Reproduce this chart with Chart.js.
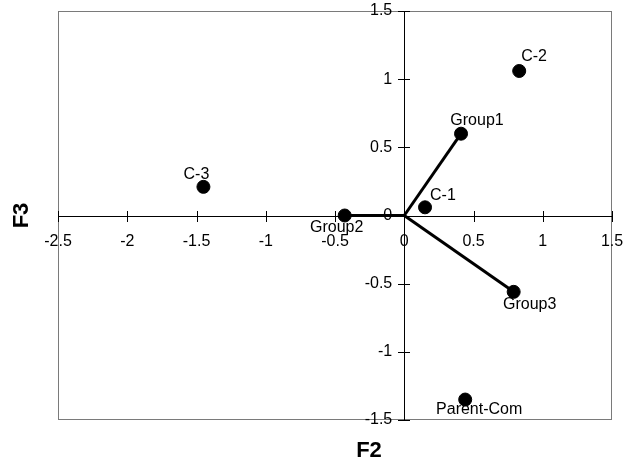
<!DOCTYPE html>
<html>
<head>
<meta charset="utf-8">
<script src="https://cdn.jsdelivr.net/npm/chart.js@4/dist/chart.umd.min.js"></script>
<style>
  html, body { margin: 0; padding: 0; background: #fff; }
  #wrap { width: 633px; height: 465px; position: relative; }
</style>
</head>
<body>
<div id="wrap"><canvas id="c"></canvas></div>
<script>
// Point names and their coordinates on the F2 / F3 axes
const names = ['C-1', 'C-2', 'C-3', 'Group1', 'Group2', 'Group3', 'Parent-Com'];
const f2 = [0.15, 0.83, -1.45, 0.41, -0.43, 0.79, 0.44];
const f3 = [0.06, 1.06, 0.21, 0.60, 0.00, -0.56, -1.35];

// Vectors drawn from the origin
const vectorNames = ['Group1', 'Group2', 'Group3'];

// Tick values
const xTicks = [-2.5, -2, -1.5, -1, -0.5, 0, 0.5, 1, 1.5];
const yTicks = [-1.5, -1, -0.5, 0, 0.5, 1, 1.5];

// Label placement relative to each marker (pixels)
const labelPlace = {
  'C-1':        { dx: 5,   dy: -12, align: 'left' },
  'C-2':        { dx: 2,   dy: -14, align: 'left' },
  'C-3':        { dx: -7,  dy: -12, align: 'center' },
  'Group1':     { dx: 16,  dy: -13, align: 'center' },
  'Group2':     { dx: -8,  dy: 12,  align: 'center' },
  'Group3':     { dx: 16,  dy: 13,  align: 'center' },
  'Parent-Com': { dx: 14,  dy: 10,  align: 'center' }
};

const points = names.map((n, i) => ({ x: f2[i], y: f3[i], name: n }));
const vectorSets = vectorNames.map(n => {
  const i = names.indexOf(n);
  return {
    type: 'line',
    data: [{ x: 0, y: 0 }, { x: f2[i], y: f3[i] }],
    borderColor: '#000',
    borderWidth: 3,
    pointRadius: 0,
    fill: false,
    tension: 0,
    order: 2
  };
});

const FONT = '"Liberation Sans", Arial, sans-serif';

const axesPlugin = {
  id: 'centerAxes',
  beforeDatasetsDraw(chart) {
    const { ctx, chartArea: a, scales } = chart;
    const xs = scales.x, ys = scales.y;
    const x0 = Math.round(xs.getPixelForValue(0)), y0 = Math.round(ys.getPixelForValue(0));
    ctx.save();
    // frame
    ctx.strokeStyle = '#7a7a7a';
    ctx.lineWidth = 1;
    ctx.strokeRect(a.left + 0.5, a.top + 0.5, a.right - a.left - 1, a.bottom - a.top - 1);
    // axes through origin
    ctx.strokeStyle = '#000';
    ctx.beginPath();
    ctx.moveTo(a.left, y0 + 0.5);
    ctx.lineTo(a.right, y0 + 0.5);
    ctx.moveTo(x0 + 0.5, a.top);
    ctx.lineTo(x0 + 0.5, a.bottom);
    // crossing tick marks
    xTicks.forEach(v => {
      const px = Math.round(xs.getPixelForValue(v)) + 0.5;
      ctx.moveTo(px, y0 - 5);
      ctx.lineTo(px, y0 + 6);
    });
    yTicks.forEach(v => {
      const py = Math.round(ys.getPixelForValue(v)) + 0.5;
      ctx.moveTo(x0 - 6, py);
      ctx.lineTo(x0 + 6, py);
    });
    ctx.stroke();
    ctx.restore();
  },
  afterDatasetsDraw(chart) {
    const { ctx, chartArea: a, scales } = chart;
    const xs = scales.x, ys = scales.y;
    const x0 = xs.getPixelForValue(0), y0 = ys.getPixelForValue(0);
    ctx.save();
    ctx.fillStyle = '#000';
    ctx.font = '16px ' + FONT;
    // x tick labels
    ctx.textAlign = 'center';
    ctx.textBaseline = 'middle';
    xTicks.forEach(v => {
      ctx.fillText(String(v), xs.getPixelForValue(v), y0 + 26);
    });
    // y tick labels
    ctx.textAlign = 'right';
    yTicks.forEach(v => {
      ctx.fillText(String(v), x0 - 12, ys.getPixelForValue(v));
    });
    // point labels
    names.forEach((n, i) => {
      const p = labelPlace[n];
      ctx.textAlign = p.align;
      ctx.fillText(n, xs.getPixelForValue(f2[i]) + p.dx, ys.getPixelForValue(f3[i]) + p.dy);
    });
    // axis titles
    ctx.font = 'bold 22px ' + FONT;
    ctx.textAlign = 'center';
    ctx.fillText('F2', 369, 451);
    ctx.translate(22, (a.top + a.bottom) / 2);
    ctx.rotate(-Math.PI / 2);
    ctx.fillText('F3', 0, 0);
    ctx.restore();
  }
};

new Chart(document.getElementById('c'), {
  type: 'scatter',
  data: {
    datasets: [
      ...vectorSets,
      {
        type: 'scatter',
        data: points,
        backgroundColor: '#000',
        borderColor: '#000',
        pointRadius: 6.5,
        pointHoverRadius: 6.5,
        order: 1
      }
    ]
  },
  options: {
    responsive: true,
    maintainAspectRatio: false,
    animation: false,
    layout: { padding: { left: 58, right: 21, top: 11, bottom: 45 } },
    plugins: { legend: { display: false }, tooltip: { enabled: false } },
    scales: {
      x: { type: 'linear', min: -2.5, max: 1.5, display: false },
      y: { type: 'linear', min: -1.5, max: 1.5, display: false }
    }
  },
  plugins: [axesPlugin]
});
</script>
</body>
</html>
